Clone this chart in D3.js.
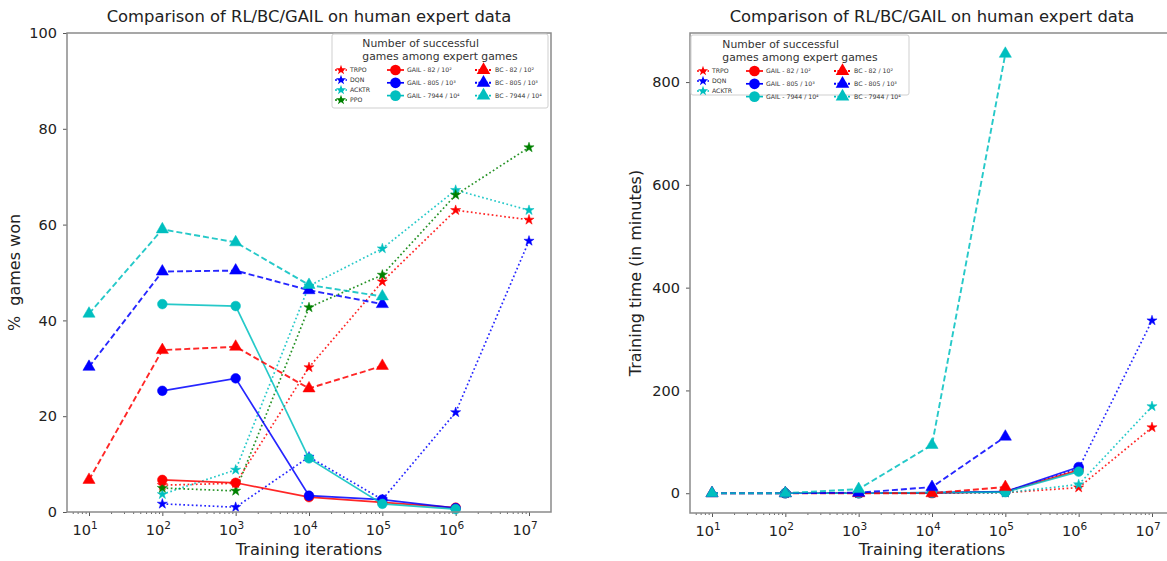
<!DOCTYPE html>
<html>
<head>
<meta charset="utf-8">
<script src="https://cdn.jsdelivr.net/npm/d3@7"></script>
<style>
  body { margin: 0; background: #fff; }
  svg { display: block; font-family: "DejaVu Sans", sans-serif; }
</style>
</head>
<body>
<svg id="chart" width="1167" height="561"></svg>
<script>
// training iterations (x axis, log scale)
var iterations = [1e1, 1e2, 1e3, 1e4, 1e5, 1e6, 1e7];
var xTickExp = [1, 2, 3, 4, 5, 6, 7];

// % games won (left panel), null = no point
var trpoWin      = [null, 5.6, 6.0, 30.2, 48.1, 63.0, 61.0];
var dqnWin       = [null, 1.7, 1.0, 11.5, 2.6, 20.8, 56.6];
var acktrWin     = [null, 3.7, 8.8, 47.2, 55.0, 67.2, 63.0];
var ppoWin       = [null, 5.0, 4.4, 42.7, 49.5, 66.2, 76.1];
var gail82Win    = [null, 6.7, 6.1, 3.1, 2.0, 0.9, null];
var gail805Win   = [null, 25.3, 27.9, 3.4, 2.6, 0.8, null];
var gail7944Win  = [null, 43.4, 43.0, 11.2, 1.7, 0.6, null];
var bc82Win      = [6.7, 33.8, 34.5, 25.8, 30.5, null, null];
var bc805Win     = [30.3, 50.2, 50.4, 46.3, 43.4, null, null];
var bc7944Win    = [41.4, 59.0, 56.3, 47.4, 45.0, null, null];
var winTicks     = [0, 20, 40, 60, 80, 100];

// training time in minutes (right panel)
var trpoTime     = [null, 0, 0, 0, 1, 11, 128];
var dqnTime      = [null, 0, 0, 1, 2, 48, 336];
var acktrTime    = [null, 0, 0, 1, 1, 17, 169];
var gail82Time   = [null, 0, 0, 0, 3, 45, null];
var gail805Time  = [null, 0, 0, 1, 3, 51, null];
var gail7944Time = [null, 0, 0, 1, 2, 42, null];
var bc82Time     = [0, 0, 0, 0, 12, null, null];
var bc805Time    = [0, 0, 1, 12, 110, null, null];
var bc7944Time   = [0, 0, 8, 94, 855, null, null];
var timeTicks    = [0, 200, 400, 600, 800];

var chartTitle = "Comparison of RL/BC/GAIL on human expert data";
var legendTitle = ["Number of successful", "games among expert games"];

var RED = "#ff0000", BLUE = "#0000ff", CYAN = "#00bfbf", GREEN = "#008000";

var svg = d3.select("#chart");

// style per method family
var styles = {
  rl:   { dash: "1.7,2.5", width: 1.7, marker: d3.symbolStar, size: 32, legendSize: 32, hl: 12 },
  gail: { dash: null, width: 1.7, marker: d3.symbolCircle, size: 74, legendSize: 90, hl: 17 },
  bc:   { dash: "6,3", width: 1.9, marker: d3.symbolTriangle, size: 64, legendSize: 80, hl: 17 }
};

function drawPanel(cfg) {
  var g = svg.append("g");
  var left = cfg.left, right = cfg.left + 484, top = 33, bottom = cfg.bottom;

  var x = d3.scaleLog().domain([Math.pow(10, 0.7), Math.pow(10, 7.3)]).range([left, right]);
  var y = d3.scaleLinear().domain(cfg.yDomain).range([bottom, top]);

  // minor ticks
  var minors = [];
  for (var k = 0; k <= 7; k++) {
    for (var m = 2; m <= 9; m++) {
      var v = m * Math.pow(10, k);
      if (v > x.domain()[0] && v < x.domain()[1]) minors.push(v);
    }
  }
  var minorAxis = g.append("g").attr("transform", "translate(0," + bottom + ")")
    .call(d3.axisBottom(x).tickValues(minors).tickSize(2).tickFormat(""));
  minorAxis.select(".domain").remove();
  minorAxis.selectAll("line").attr("stroke", "#444").attr("stroke-width", 0.8);

  var xAxis = g.append("g").attr("transform", "translate(0," + bottom + ")")
    .call(d3.axisBottom(x).tickValues(xTickExp.map(function(e){ return Math.pow(10, e); }))
      .tickSize(4).tickFormat(""));
  xAxis.select(".domain").remove();
  xAxis.selectAll("line").attr("stroke", "#444").attr("stroke-width", 0.9);
  xTickExp.forEach(function(e) {
    var t = g.append("text").attr("x", x(Math.pow(10, e)) - 4).attr("y", bottom + 23)
      .attr("text-anchor", "middle").attr("font-size", 14.5).attr("fill", "#222");
    t.append("tspan").text("10");
    t.append("tspan").attr("dy", -6).attr("font-size", 10.5).text(e);
  });

  var yAxis = g.append("g").attr("transform", "translate(" + left + ",0)")
    .call(d3.axisLeft(y).tickValues(cfg.yTicks).tickSize(4).tickPadding(6));
  yAxis.select(".domain").remove();
  yAxis.selectAll("line").attr("stroke", "#444").attr("stroke-width", 0.9);
  yAxis.selectAll("text").attr("font-size", 14.5).attr("fill", "#222")
    .attr("font-family", "DejaVu Sans");

  // lines and markers
  cfg.series.forEach(function(s) {
    var st = styles[s.kind];
    var pts = [];
    s.values.forEach(function(v, i) { if (v != null) pts.push([iterations[i], v]); });
    var line = d3.line().x(function(d){ return x(d[0]); }).y(function(d){ return y(d[1]); });
    g.append("path").datum(pts).attr("d", line)
      .attr("fill", "none").attr("stroke", s.color).attr("stroke-width", st.width)
      .attr("stroke-dasharray", st.dash).attr("stroke-opacity", 0.85);
    g.selectAll(null).data(pts).enter().append("path")
      .attr("d", d3.symbol().type(st.marker).size(st.size))
      .attr("transform", function(d){ return "translate(" + x(d[0]) + "," + y(d[1]) + ")"; })
      .attr("fill", s.color).attr("stroke", s.color).attr("stroke-width", 0.5);
  });

  // frame
  g.append("rect").attr("x", left).attr("y", top).attr("width", right - left).attr("height", bottom - top)
    .attr("fill", "none").attr("stroke", "#8a8a8a").attr("stroke-width", 1.5);

  // titles
  var cx = (left + right) / 2;
  g.append("text").attr("x", cx).attr("y", 22).attr("text-anchor", "middle")
    .attr("font-size", 16.4).attr("fill", "#222").text(chartTitle);
  g.append("text").attr("x", cx).attr("y", 555).attr("text-anchor", "middle")
    .attr("font-size", 16.3).attr("fill", "#222").text("Training iterations");
  g.append("text").attr("transform", "translate(" + cfg.ylabelX + "," + ((top + bottom) / 2) + ") rotate(-90)")
    .attr("text-anchor", "middle").attr("font-size", 16).attr("fill", "#222")
    .attr("xml:space", "preserve").text(cfg.ylabel);

  // legend
  var lg = cfg.legend;
  var box = g.append("g").attr("transform", "translate(" + lg.x + "," + lg.y + ")");
  box.append("rect").attr("width", lg.w).attr("height", lg.h).attr("rx", 2)
    .attr("fill", "#fff").attr("fill-opacity", 0.85).attr("stroke", "#cfcfcf");
  var t1 = box.append("text").attr("y", 13).attr("font-size", 10.8).attr("fill", "#333").text(legendTitle[0]);
  var t2 = box.append("text").attr("y", 25.5).attr("font-size", 10.8).attr("fill", "#333").text(legendTitle[1]);
  var tw = Math.max(t1.node().getComputedTextLength(), t2.node().getComputedTextLength());
  t1.attr("x", (lg.w - tw) / 2); t2.attr("x", (lg.w - tw) / 2);

  var cols = { rl: { mx: lg.c1, step: 10 }, gail: { mx: 63.5, step: 12.8 }, bc: { mx: 151.5, step: 12.8 } };
  var counts = { rl: 0, gail: 0, bc: 0 };
  cfg.series.forEach(function(s) {
    var st = styles[s.kind], c = cols[s.kind];
    var yy = 36 + c.step * counts[s.kind]++;
    box.append("line").attr("x1", c.mx - st.hl / 2).attr("x2", c.mx + st.hl / 2)
      .attr("y1", yy).attr("y2", yy).attr("stroke", s.color).attr("stroke-width", st.width)
      .attr("stroke-dasharray", st.dash ? "2,1.5" : null);
    box.append("path").attr("d", d3.symbol().type(st.marker).size(st.legendSize))
      .attr("transform", "translate(" + c.mx + "," + yy + ")").attr("fill", s.color);
    box.append("text").attr("x", c.mx + st.hl / 2 + 3).attr("y", yy + 2)
      .attr("font-size", 6.2).attr("fill", "#333").text(s.name);
  });
}

drawPanel({
  left: 67, bottom: 512, yDomain: [0, 100], yTicks: winTicks,
  ylabel: "%  games won", ylabelX: 20,
  legend: { x: 332, y: 34, w: 216, h: 74, c1: 9 },
  series: [
    { name: "TRPO", kind: "rl", color: RED, values: trpoWin },
    { name: "DQN", kind: "rl", color: BLUE, values: dqnWin },
    { name: "ACKTR", kind: "rl", color: CYAN, values: acktrWin },
    { name: "PPO", kind: "rl", color: GREEN, values: ppoWin },
    { name: "GAIL - 82 / 10²", kind: "gail", color: RED, values: gail82Win },
    { name: "GAIL - 805 / 10³", kind: "gail", color: BLUE, values: gail805Win },
    { name: "GAIL - 7944 / 10⁴", kind: "gail", color: CYAN, values: gail7944Win },
    { name: "BC - 82 / 10²", kind: "bc", color: RED, values: bc82Win },
    { name: "BC - 805 / 10³", kind: "bc", color: BLUE, values: bc805Win },
    { name: "BC - 7944 / 10⁴", kind: "bc", color: CYAN, values: bc7944Win }
  ]
});

// y range like matplotlib autoscale with 5% margins
var allTime = [].concat(trpoTime, dqnTime, acktrTime, gail82Time, gail805Time, gail7944Time,
  bc82Time, bc805Time, bc7944Time).filter(function(v){ return v != null; });
var tMin = d3.min(allTime), tMax = d3.max(allTime), pad = (tMax - tMin) * 0.045;

drawPanel({
  left: 690, bottom: 513, yDomain: [tMin - pad, tMax + pad + 2], yTicks: timeTicks,
  ylabel: "Training time (in minutes)", ylabelX: 641,
  legend: { x: 691, y: 35, w: 218, h: 60, c1: 12 },
  series: [
    { name: "TRPO", kind: "rl", color: RED, values: trpoTime },
    { name: "DQN", kind: "rl", color: BLUE, values: dqnTime },
    { name: "ACKTR", kind: "rl", color: CYAN, values: acktrTime },
    { name: "GAIL - 82 / 10²", kind: "gail", color: RED, values: gail82Time },
    { name: "GAIL - 805 / 10³", kind: "gail", color: BLUE, values: gail805Time },
    { name: "GAIL - 7944 / 10⁴", kind: "gail", color: CYAN, values: gail7944Time },
    { name: "BC - 82 / 10²", kind: "bc", color: RED, values: bc82Time },
    { name: "BC - 805 / 10³", kind: "bc", color: BLUE, values: bc805Time },
    { name: "BC - 7944 / 10⁴", kind: "bc", color: CYAN, values: bc7944Time }
  ]
});
</script>
</body>
</html>
